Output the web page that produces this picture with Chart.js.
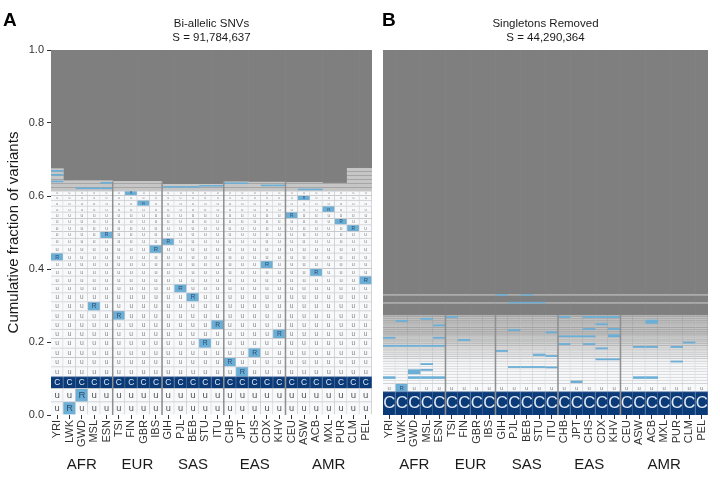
<!DOCTYPE html>
<html>
<head>
<meta charset="utf-8">
<script src="https://cdn.jsdelivr.net/npm/chart.js@4.4.0/dist/chart.umd.min.js"></script>
<style>
  html, body { margin: 0; padding: 0; background: #fff; }
  #wrap { position: relative; width: 720px; height: 480px; }
  #wrap canvas { position: absolute; top: 0; }
  #chartA { left: 0; }
  #chartB { left: 380px; }
</style>
</head>
<body>
<div id="wrap">
  <canvas id="chartA" width="380" height="480"></canvas>
  <canvas id="chartB" width="340" height="480"></canvas>
</div>
<script>
// ---- data ----
const populations = ['YRI','LWK','GWD','MSL','ESN','TSI','FIN','GBR','IBS','GIH','PJL','BEB','STU','ITU',
                     'CHB','JPT','CHS','CDX','KHV','CEU','ASW','ACB','MXL','PUR','CLM','PEL'];
const superPops = ['AFR', 'EUR', 'SAS', 'EAS', 'AMR'];
const superPopSizes = [5, 4, 5, 5, 7];

// panel A: stacked row heights (bottom -> top), shared by every population
const rowHeightsA = [0.0365, 0.0365, 0.032,
  0.028, 0.025, 0.026, 0.026, 0.0255, 0.0255, 0.025, 0.025, 0.0245, 0.0235, 0.022, 0.021,
  0.021, 0.021, 0.022, 0.019, 0.0185, 0.0185, 0.017, 0.0175, 0.0165, 0.0155, 0.0135, 0.0125];
const cRowA = 2;
// row holding each population's own "R" cell
const ownRowA = [16, 0, 1, 10, 19, 9, 26, 24, 17, 18, 12, 11, 6, 8, 4, 3, 5, 15, 7, 22, 25, 14, 23, 21, 20, 13];
// top of the thin grey band above the labelled rows
const lightTopA = [0.675, 0.642, 0.642, 0.642, 0.642, 0.640, 0.640, 0.640, 0.640, 0.632, 0.632, 0.632, 0.632,
                   0.632, 0.639, 0.639, 0.638, 0.638, 0.638, 0.637, 0.637, 0.637, 0.635, 0.635, 0.676, 0.676];
const blueLinesA = {
  YRI: [0.669, 0.658, 0.640], GWD: [0.621], MSL: [0.621], ESN: [0.621, 0.636],
  GIH: [0.625], PJL: [0.625], BEB: [0.625], STU: [0.628], ITU: [0.628],
  CHB: [0.635], JPT: [0.635], CDX: [0.629], KHV: [0.629], ASW: [0.618], ACB: [0.618]
};

// panel B
const rowHeightsB = [0.064, 0.023,
  0.009, 0.008, 0.008, 0.008, 0.007, 0.007, 0.007, 0.007, 0.007, 0.006, 0.006, 0.006, 0.006, 0.006,
  0.006, 0.006, 0.006, 0.006, 0.006, 0.005, 0.005, 0.005, 0.005, 0.005, 0.005, 0.005, 0.005, 0.005,
  0.005, 0.005, 0.004];
const cRowB = 0;
const ownRowB = { LWK: 1, JPT: 2 };
const lightLinesB = [0.307, 0.329];
const blueSpansB = {
  YRI: [[0.209, 0.214], [0.187, 0.192], [0.099, 0.106]],
  LWK: [[0.255, 0.260], [0.187, 0.192]],
  GWD: [[0.187, 0.192], [0.112, 0.125], [0.099, 0.106]],
  MSL: [[0.261, 0.266], [0.187, 0.192], [0.137, 0.142], [0.121, 0.126], [0.099, 0.106]],
  ESN: [[0.243, 0.248], [0.209, 0.214], [0.187, 0.192], [0.099, 0.106]],
  TSI: [[0.266, 0.271]],
  FIN: [[0.203, 0.208]],
  GIH: [[0.327, 0.331], [0.173, 0.178]],
  PJL: [[0.306, 0.310], [0.230, 0.235], [0.129, 0.134]],
  BEB: [[0.327, 0.331], [0.306, 0.310], [0.129, 0.134]],
  STU: [[0.306, 0.310], [0.162, 0.168], [0.129, 0.134]],
  ITU: [[0.224, 0.229], [0.159, 0.164], [0.128, 0.133]],
  CHB: [[0.266, 0.271], [0.213, 0.218], [0.192, 0.197]],
  JPT: [[0.213, 0.218]],
  CHS: [[0.266, 0.271], [0.233, 0.238], [0.213, 0.218], [0.192, 0.197]],
  CDX: [[0.266, 0.271], [0.246, 0.251], [0.180, 0.185], [0.150, 0.155]],
  KHV: [[0.266, 0.271], [0.233, 0.238], [0.213, 0.221], [0.150, 0.155]],
  ASW: [[0.184, 0.189], [0.099, 0.106]],
  ACB: [[0.250, 0.261], [0.184, 0.189], [0.099, 0.106]],
  PUR: [[0.184, 0.189], [0.144, 0.149]],
  CLM: [[0.196, 0.201]]
};

// ---- styling ----
const FONT = '"Liberation Sans", Arial, Helvetica, sans-serif';
const WHITE = '#f8f9fb', GRID = '#c8cacd', C_BLUE = '#0b3a78', C_EDGE = '#4a6c9a';
const R_BLUE = '#6baed6', DARK = '#7f7f7f';
Chart.defaults.font.family = FONT;

function mix(a, b, t) {
  const pa = a.match(/\w\w/g).map(h => parseInt(h, 16));
  const pb = b.match(/\w\w/g).map(h => parseInt(h, 16));
  return 'rgb(' + pa.map((v, i) => Math.round(v + (pb[i] - v) * t)).join(',') + ')';
}

function stripes(canvasId) {
  const c = document.createElement('canvas');
  c.width = 4; c.height = 4;
  const g = c.getContext('2d');
  g.fillStyle = '#c6c6c6'; g.fillRect(0, 0, 4, 4);
  g.fillStyle = '#a6a6a6'; g.fillRect(0, 3, 4, 1);
  return document.getElementById(canvasId).getContext('2d').createPattern(c, 'repeat');
}

// Chart.js paints lower "order" last, so overlays get order 0, base cells order 2
function rowDatasets(heights, cRow, ownRowOf, textOf, colorOf) {
  const out = [];
  let acc = 0;
  heights.forEach((h, r) => {
    const lo = acc, hi = acc + h;
    acc = hi;
    const bg = [], edge = [], txt = [];
    populations.forEach((p, i) => {
      if (r === cRow) { bg.push(C_BLUE); edge.push(C_EDGE); txt.push('C'); }
      else if (ownRowOf(p, i) === r) { bg.push(R_BLUE); edge.push(GRID); txt.push('R'); }
      else { const c = colorOf(lo, hi); bg.push(c[0]); edge.push(c[1]); txt.push(textOf(lo, hi)); }
    });
    out.push({
      order: 2,
      data: populations.map(() => [lo, hi]),
      backgroundColor: bg, borderColor: edge,
      borderWidth: { top: 1, right: 1, bottom: 0, left: 0 }, borderSkipped: false,
      cellText: txt
    });
  });
  return out;
}

function overlayDatasets(spansOf, color) {
  const n = Math.max(...populations.map(p => (spansOf[p] || []).length));
  const out = [];
  for (let s = 0; s < n; s++) {
    out.push({
      order: 0,
      data: populations.map(p => (spansOf[p] && spansOf[p][s]) ? spansOf[p][s] : null),
      backgroundColor: color, borderWidth: 0, inflateAmount: 0
    });
  }
  return out;
}

function sumOf(arr) { return arr.reduce((a, b) => a + b, 0); }

// ---- panel A datasets ----
const topRowsA = sumOf(rowHeightsA);
const datasetsA = rowDatasets(rowHeightsA, cRowA, (p, i) => ownRowA[i], () => 'u', () => [WHITE, GRID]);
datasetsA.push({ order: 2, data: lightTopA.map(t => [topRowsA, t]), backgroundColor: stripes('chartA'), borderWidth: 0 });
datasetsA.push({ order: 2, data: lightTopA.map(t => [t, 1]), backgroundColor: DARK, borderWidth: 0 });
const spansA = {};
Object.keys(blueLinesA).forEach(p => { spansA[p] = blueLinesA[p].map(v => [v - 0.0022, v + 0.0022]); });
datasetsA.push(...overlayDatasets(spansA, R_BLUE));

// ---- panel B datasets ----
const topRowsB = sumOf(rowHeightsB);
const datasetsB = rowDatasets(rowHeightsB, cRowB, p => ownRowB[p],
  (lo, hi) => ((lo + hi) / 2 < 0.14 ? 'u' : ''),
  (lo, hi) => {
    const t = Math.min(1, Math.max(0, ((lo + hi) / 2 - 0.14) / 0.08));
    return [mix('f8f9fb', 'c2c2c2', t), mix('d2d3d6', 'a4a4a4', t)];
  });
datasetsB.push({ order: 2, data: populations.map(() => [topRowsB, 1]), backgroundColor: DARK, borderWidth: 0 });
lightLinesB.forEach(v => {
  datasetsB.push({ order: 1, data: populations.map(() => [v - 0.0016, v + 0.0016]),
                   backgroundColor: '#c4c4c4', borderWidth: 0, inflateAmount: 0 });
});
datasetsB.push(...overlayDatasets(blueSpansB, R_BLUE));

// ---- drawing helpers ----
const decor = {
  id: 'decor',
  afterDatasetsDraw(chart, args, opts) {
    const ctx = chart.ctx;
    const xs = chart.scales.x, ys = chart.scales.y;
    ctx.save();
    ctx.textAlign = 'center';
    ctx.textBaseline = 'middle';
    chart.data.datasets.forEach((ds, di) => {
      if (!ds.cellText) return;
      chart.getDatasetMeta(di).data.forEach((bar, i) => {
        const t = ds.cellText[i];
        if (!t) return;
        const p = bar.getProps(['x', 'y', 'base'], true);
        const h = Math.abs(p.base - p.y);
        const size = Math.min(h * 0.72, 17);
        if (size < 3.2) return;
        ctx.font = size.toFixed(1) + 'px ' + FONT;
        ctx.fillStyle = t === 'C' ? '#dfe8f4' : (t === 'R' ? '#2a4d70' : (h > 12 ? '#555' : '#858585'));
        ctx.fillText(t, p.x, (p.y + p.base) / 2 + 0.5);
      });
    });
    // separators between super-populations
    ctx.strokeStyle = '#8f8f8f';
    ctx.lineWidth = 1.5;
    let k = 0;
    superPopSizes.slice(0, -1).forEach(n => {
      k += n;
      const x = (xs.getPixelForValue(k - 1) + xs.getPixelForValue(k)) / 2;
      ctx.beginPath();
      ctx.moveTo(x, ys.getPixelForValue(0));
      ctx.lineTo(x, ys.getPixelForValue(opts.sepTop));
      ctx.stroke();
    });
    ctx.restore();
  },
  afterDraw(chart, args, opts) {
    const ctx = chart.ctx, area = chart.chartArea, xs = chart.scales.x;
    ctx.save();
    ctx.fillStyle = '#000';
    ctx.font = 'bold 19px ' + FONT;
    ctx.textAlign = 'left';
    ctx.textBaseline = 'alphabetic';
    ctx.fillText(opts.letter, opts.letterX, 26);
    ctx.fillStyle = '#1a1a1a';
    ctx.font = '11.5px ' + FONT;
    ctx.textAlign = 'center';
    ctx.textBaseline = 'middle';
    const cx = (area.left + area.right) / 2;
    ctx.fillText(opts.titles[0], cx, 24);
    ctx.fillText(opts.titles[1], cx, 38);
    // super-population names
    ctx.font = '15px ' + FONT;
    let start = 0;
    superPops.forEach((name, g) => {
      const end = start + superPopSizes[g] - 1;
      ctx.fillText(name, (xs.getPixelForValue(start) + xs.getPixelForValue(end)) / 2, 465);
      start = end + 1;
    });
    if (opts.yTitle) {
      ctx.translate(14, (area.top + area.bottom) / 2);
      ctx.rotate(-Math.PI / 2);
      ctx.font = '15px ' + FONT;
      ctx.fillText(opts.yTitle, 0, 0);
    }
    ctx.restore();
  }
};

function makeChart(id, datasets, showY, padding, decorOpts) {
  return new Chart(document.getElementById(id), {
    type: 'bar',
    data: { labels: populations, datasets: datasets },
    options: {
      responsive: false,
      animation: false,
      events: [],
      layout: { padding: padding },
      datasets: { bar: { grouped: false, barPercentage: 1, categoryPercentage: 1 } },
      plugins: { legend: { display: false }, tooltip: { enabled: false }, decor: decorOpts },
      scales: {
        x: {
          type: 'category',
          offset: true,
          afterFit: s => { s.height = 65; },
          border: { display: false },
          grid: { offset: false, drawOnChartArea: false, drawTicks: true, tickLength: 4, color: '#333' },
          ticks: { autoSkip: false, minRotation: 90, maxRotation: 90, padding: 1,
                   color: '#333', font: { size: 11 } }
        },
        y: {
          display: showY,
          min: 0, max: 1,
          afterFit: s => { s.width = showY ? 51 : 0; },
          border: { display: false },
          grid: { drawOnChartArea: false, drawTicks: true, tickLength: 4, color: '#333' },
          ticks: { stepSize: 0.2, padding: 3, color: '#333', font: { size: 11 },
                   callback: v => v.toFixed(1) }
        }
      }
    },
    plugins: [decor]
  });
}

makeChart('chartA', datasetsA, true, { top: 50, right: 4, left: 0, bottom: 0 },
  { letter: 'A', letterX: 3, titles: ['Bi-allelic SNVs', 'S = 91,784,637'],
    yTitle: 'Cumulative fraction of variants', sepTop: 0.64 });
makeChart('chartB', datasetsB, false, { top: 50, right: 12, left: 3, bottom: 0 },
  { letter: 'B', letterX: 2, titles: ['Singletons Removed', 'S = 44,290,364'],
    yTitle: null, sepTop: topRowsB });
</script>
</body>
</html>
